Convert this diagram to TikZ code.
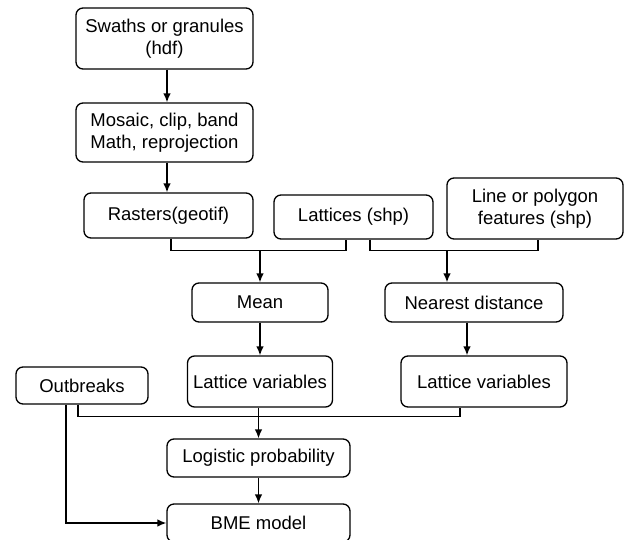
\documentclass[tikz,border=0pt]{standalone}
\usepackage{fontspec}
\setmainfont{Liberation Sans}
\usetikzlibrary{arrows.meta, positioning, shapes.misc}

\begin{document}
\begin{tikzpicture}[node distance=80pt]
% Define box and arrow styles
\tikzstyle{box} = [rectangle, rounded corners=7pt, draw=black, line width=1.3pt, align=center, inner sep=2pt, font=\fontsize{18.5}{22}\selectfont]
\tikzstyle{arrow} = [-{Latex[length=9pt, width=7.5pt]}, line width=1.3pt, draw=black]
\useasboundingbox (0,0) rectangle (624pt,-539pt);
% Define nodes (image processing)
\node[box, minimum width=177pt, minimum height=61pt] (Swaths) at (164.5pt,-38.5pt) {Swaths or granules\\(hdf)};
\node[box, minimum width=177pt, minimum height=59pt, below of=Swaths, yshift=-14pt] (Mosaic) {Mosaic, clip, band\\Math, reprojection};
\node[box, minimum width=169pt, minimum height=45pt, below of=Mosaic, xshift=4pt, yshift=-3pt] (Rasters) {Rasters(geotif)};
% Define input layers
\node[box, minimum width=159pt, minimum height=44pt, right of=Rasters, xshift=105pt, yshift=-1.5pt] (Lattices) {Lattices (shp)};
\node[box, minimum width=176pt, minimum height=61pt, right of=Lattices, xshift=101.5pt, yshift=8.5pt] (LineFeatures) {Line or polygon\\features (shp)};
% Define operations
\node[box, minimum width=136pt, minimum height=39pt, below of=Rasters, xshift=91.5pt, yshift=-7pt] (Mean) {Mean};
\node[box, minimum width=178pt, minimum height=39pt, right of=Mean, xshift=134pt] (Nearest) {Nearest distance};
% Define lattice variables
\node[box, minimum width=145pt, minimum height=51pt, below of=Mean, yshift=1pt] (LatticeVarMean) {Lattice variables};
\node[box, minimum width=166pt, minimum height=51pt, below of=Nearest, xshift=10pt, yshift=1pt] (LatticeVarDist) {Lattice variables};
\node[box, minimum width=132pt, minimum height=37pt, left of=LatticeVarMean, xshift=-98pt, yshift=-4pt] (Outbreaks) {Outbreaks};
% Define models
\node[box, minimum width=183pt, minimum height=38pt, below of=LatticeVarMean, xshift=-1.5pt, yshift=3.5pt] (Logistic) {Logistic probability};
\node[box, minimum width=183pt, minimum height=38pt, below of=Logistic, yshift=15pt] (BME) {BME model};
% Junctions
\coordinate (MeanJoin) at ([yshift=32pt]Mean.north);
\coordinate (NearestJoin) at ([xshift=-27pt, yshift=32pt]Nearest.north);
\coordinate (LogisticJoin) at ([yshift=22pt]Logistic.north);
% Relationships (arrows)
\draw[arrow] ([xshift=2.5pt]Swaths.south) -- ([xshift=2.5pt]Mosaic.north);
\draw[arrow] ([xshift=2.5pt]Mosaic.south) -- ([xshift=-1.5pt]Rasters.north);
\draw[line width=1.3pt] ([xshift=2.5pt]Rasters.south) |- (MeanJoin) -| ([xshift=-7.5pt]Lattices.south);
\draw[arrow] (MeanJoin) -- (Mean.north);
\draw[line width=1.3pt] ([xshift=16.5pt]Lattices.south) |- (NearestJoin) -| ([xshift=3pt]LineFeatures.south);
\draw[arrow] (NearestJoin) -- ([xshift=-27pt]Nearest.north);
\draw[arrow] (Mean.south) -- (LatticeVarMean.north);
\draw[arrow] ([xshift=-7pt]Nearest.south) -- ([xshift=-17pt]LatticeVarDist.north);
\draw[line width=1.3pt] ([xshift=-4pt]Outbreaks.south) |- (LogisticJoin) -| ([xshift=-24pt]LatticeVarDist.south);
\draw[arrow] (LatticeVarMean.south -| Logistic.north) -- (Logistic.north);
\draw[arrow] (Logistic.south) -- (BME.north);
\draw[arrow] ([xshift=-16pt]Outbreaks.south) |- (BME.west);
\end{tikzpicture}
\end{document}
